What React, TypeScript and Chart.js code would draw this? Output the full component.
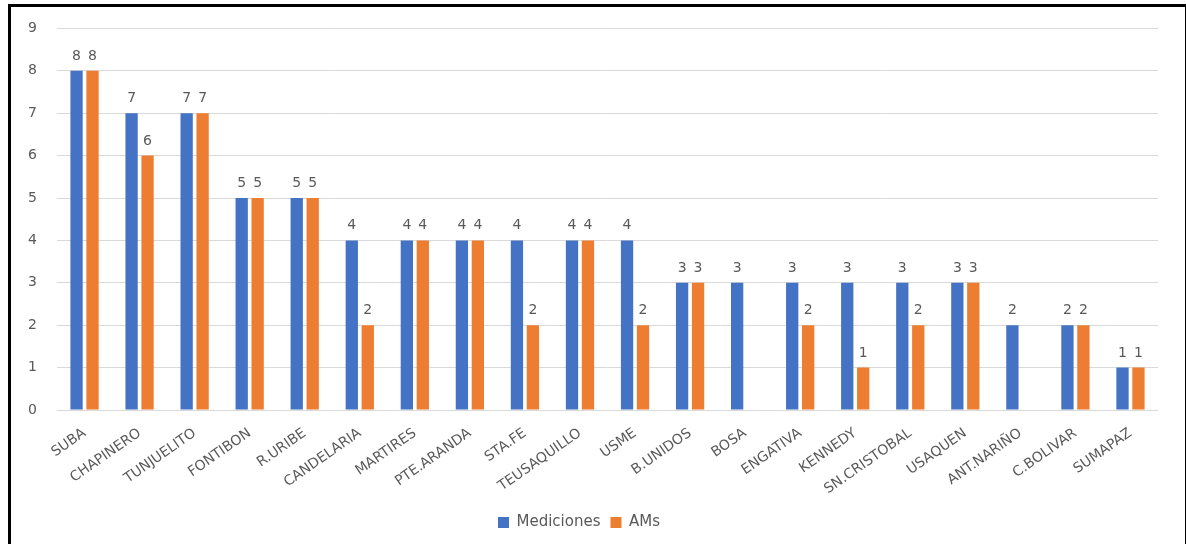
import { useEffect, useRef } from "react";
import { Chart, registerables } from "chart.js";

Chart.register(...registerables);

const localidades = [
  "SUBA", "CHAPINERO", "TUNJUELITO", "FONTIBON", "R.URIBE", "CANDELARIA",
  "MARTIRES", "PTE.ARANDA", "STA.FE", "TEUSAQUILLO", "USME", "B.UNIDOS",
  "BOSA", "ENGATIVA", "KENNEDY", "SN.CRISTOBAL", "USAQUEN", "ANT.NARIÑO",
  "C.BOLIVAR", "SUMAPAZ",
];
const mediciones = [8, 7, 7, 5, 5, 4, 4, 4, 4, 4, 4, 3, 3, 3, 3, 3, 3, 2, 2, 1];
const ams = [8, 6, 7, 5, 5, 2, 4, 4, 2, 4, 2, 3, null, 2, 1, 2, 3, null, 2, 1];
const yTicks = [0, 1, 2, 3, 4, 5, 6, 7, 8, 9];

const FONT = "'DejaVu Sans', sans-serif";
const GRIS = "#595959";

// etiquetas de valor encima de cada barra
const valueLabels = {
  id: "valueLabels",
  afterDatasetsDraw(chart: Chart) {
    const ctx = chart.ctx;
    ctx.save();
    ctx.font = `14px ${FONT}`;
    ctx.fillStyle = GRIS;
    ctx.textAlign = "center";
    ctx.textBaseline = "alphabetic";
    chart.data.datasets.forEach((ds, i) => {
      const meta = chart.getDatasetMeta(i);
      meta.data.forEach((bar: any, j) => {
        const v = ds.data[j] as number | null;
        if (v === null || v === undefined) return;
        ctx.fillText(String(v), bar.x, bar.y - 11);
      });
    });
    ctx.restore();
  },
};

export default function App() {
  const canvasRef = useRef<HTMLCanvasElement>(null);
  const chartInstance = useRef<Chart | null>(null);

  useEffect(() => {
    if (!canvasRef.current) return;
    const ctx = canvasRef.current.getContext("2d");
    if (!ctx) return;

    if (chartInstance.current) chartInstance.current.destroy();

    chartInstance.current = new Chart(ctx, {
      type: "bar",
      data: {
        labels: localidades,
        datasets: [
          {
            label: "Mediciones",
            data: mediciones,
            backgroundColor: "#4472C4",
            categoryPercentage: 0.58,
            barPercentage: 0.77,
          },
          {
            label: "AMs",
            data: ams,
            backgroundColor: "#ED7D31",
            categoryPercentage: 0.58,
            barPercentage: 0.77,
          },
        ],
      },
      options: {
        responsive: true,
        maintainAspectRatio: false,
        animation: false,
        layout: { padding: { top: 22, right: 28, bottom: 4, left: 0 } },
        plugins: {
          legend: {
            position: "bottom",
            labels: {
              font: { family: FONT, size: 15 },
              color: GRIS,
              boxWidth: 11,
              boxHeight: 11,
              padding: 10,
            },
          },
          tooltip: { enabled: false },
        },
        scales: {
          x: {
            grid: { display: false },
            border: { display: false },
            ticks: {
              font: { family: FONT, size: 14 },
              color: GRIS,
              minRotation: 35,
              maxRotation: 35,
              autoSkip: false,
              padding: 7,
            },
            afterFit: (scale: any) => {
              scale.height = 95;
            },
          },
          y: {
            min: 0,
            max: 9,
            afterBuildTicks: (scale: any) => {
              scale.ticks = yTicks.map((v) => ({ value: v }));
            },
            grid: { color: "#D9D9D9", lineWidth: 1, drawTicks: false },
            border: { display: false },
            ticks: {
              font: { family: FONT, size: 14 },
              color: GRIS,
              padding: 20,
            },
            afterFit: (scale: any) => {
              scale.width = 57;
            },
          },
        },
      },
      plugins: [valueLabels],
    });

    return () => chartInstance.current?.destroy();
  }, []);

  return (
    <div style={{ position: "fixed", left: 0, top: 0, width: 1186, height: 544, background: "#fff" }}>
      <canvas ref={canvasRef}></canvas>
      <div
        style={{
          position: "absolute",
          left: 8,
          top: 4,
          width: 1174,
          height: 560,
          borderTop: "3px solid #000",
          borderLeft: "3px solid #000",
          borderRight: "2px solid #000",
          pointerEvents: "none",
        }}
      />
    </div>
  );
}
